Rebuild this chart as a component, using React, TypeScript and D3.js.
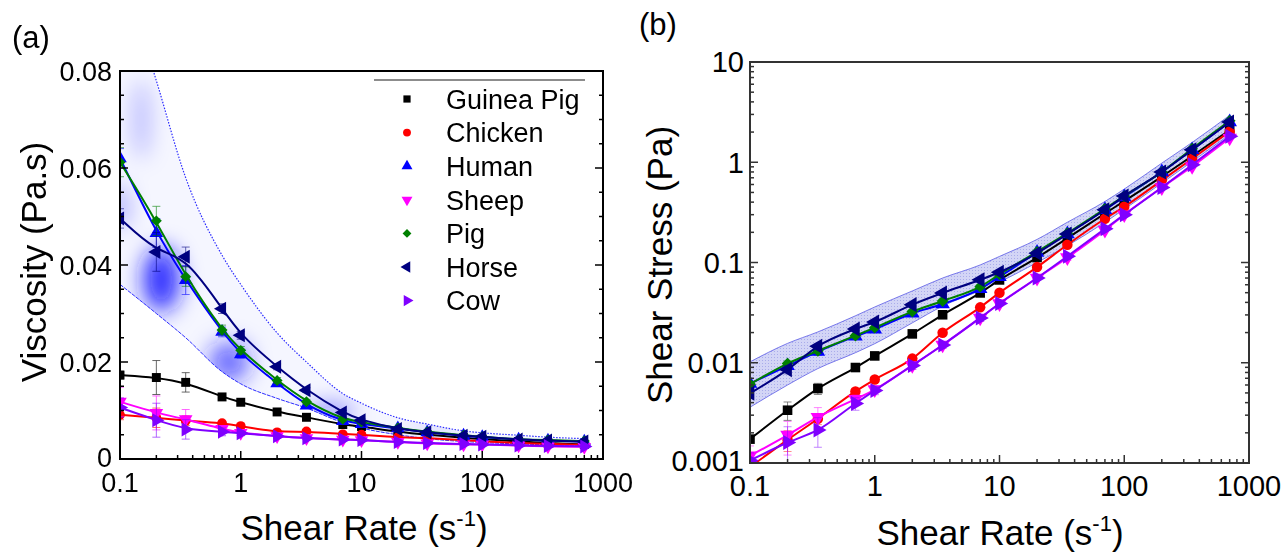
import React from 'react';
import * as d3 from 'd3';

// shear rates (1/s) shared by every series
const rates = [0.1, 0.2, 0.35, 0.7, 1, 2, 3.5, 7, 10, 20, 35, 70, 100, 200, 350, 700];

// viscosity (Pa.s) (a) / (b)
const guineaPig = [0.0173, 0.0168, 0.0158, 0.0128, 0.0117, 0.0097, 0.0086, 0.0071, 0.0067, 0.0056, 0.005, 0.0044, 0.0041, 0.0036, 0.0033, 0.003];
const chicken = [0.0091, 0.0085, 0.0079, 0.0074, 0.0068, 0.0055, 0.0057, 0.0051, 0.005, 0.0045, 0.0043, 0.0039, 0.0036, 0.0033, 0.0031, 0.0029];
const human = [0.062, 0.0466, 0.0369, 0.0262, 0.0216, 0.0156, 0.011, 0.0078, 0.0072, 0.0063, 0.0055, 0.0048, 0.0045, 0.004, 0.0038, 0.0036];
const sheep = [0.0118, 0.0095, 0.0082, 0.0062, 0.0054, 0.0047, 0.0043, 0.004, 0.0039, 0.0035, 0.0032, 0.003, 0.003, 0.0028, 0.0026, 0.0025];
const pig = [0.0612, 0.0491, 0.0376, 0.0266, 0.0224, 0.0162, 0.0118, 0.0082, 0.0076, 0.0064, 0.0056, 0.0049, 0.0046, 0.004, 0.0039, 0.0037];
const horse = [0.0496, 0.0427, 0.0417, 0.031, 0.0255, 0.019, 0.0142, 0.0096, 0.008, 0.0062, 0.0055, 0.0048, 0.0046, 0.004, 0.0038, 0.0036];
const cow = [0.0106, 0.008, 0.0061, 0.0056, 0.0053, 0.0047, 0.0043, 0.004, 0.0039, 0.0035, 0.0033, 0.0031, 0.003, 0.0028, 0.0027, 0.0026];

// error bars (Pa.s)
const guineaPigErr = [0.0008, 0.0035, 0.002, 0.0006, 0.0005, 0.0004, 0.0003, 0.0003, 0.0002, 0.0002, 0.0002, 0.0001, 0.0001, 0.0001, 0.0001, 0.0001];
const chickenErr = [0.001, 0.002, 0.001, 0.0005, 0.0004, 0.0003, 0.0003, 0.0002, 0.0002, 0.0002, 0.0001, 0.0001, 0.0001, 0.0001, 0.0001, 0.0001];
const humanErr = [0.002, 0.003, 0.003, 0.001, 0.0008, 0.0006, 0.0005, 0.0004, 0.0003, 0.0002, 0.0002, 0.0002, 0.0001, 0.0001, 0.0001, 0.0001];
const sheepErr = [0.003, 0.0035, 0.002, 0.0006, 0.0005, 0.0004, 0.0003, 0.0003, 0.0002, 0.0002, 0.0002, 0.0001, 0.0001, 0.0001, 0.0001, 0.0001];
const pigErr = [0.003, 0.003, 0.002, 0.001, 0.0008, 0.0006, 0.0005, 0.0004, 0.0003, 0.0002, 0.0002, 0.0002, 0.0001, 0.0001, 0.0001, 0.0001];
const horseErr = [0.002, 0.004, 0.002, 0.001, 0.0008, 0.0006, 0.0005, 0.0004, 0.0003, 0.0002, 0.0002, 0.0002, 0.0001, 0.0001, 0.0001, 0.0001];
const cowErr = [0.002, 0.0035, 0.002, 0.0008, 0.0005, 0.0004, 0.0003, 0.0003, 0.0002, 0.0002, 0.0002, 0.0001, 0.0001, 0.0001, 0.0001, 0.0001];

// normal range band (viscosity, Pa.s)
const bandUpper = [0.102, 0.078, 0.058, 0.042, 0.036, 0.026, 0.02, 0.0135, 0.0115, 0.0085, 0.0072, 0.0058, 0.0054, 0.0049, 0.0045, 0.0042];
const bandLower = [0.036, 0.03, 0.025, 0.018, 0.0155, 0.0125, 0.0105, 0.0075, 0.0064, 0.005, 0.0042, 0.0036, 0.0034, 0.0031, 0.0029, 0.0027];

const names = ['Guinea Pig', 'Chicken', 'Human', 'Sheep', 'Pig', 'Horse', 'Cow'];
const values = [guineaPig, chicken, human, sheep, pig, horse, cow];
const errors = [guineaPigErr, chickenErr, humanErr, sheepErr, pigErr, horseErr, cowErr];

const colors = ['#000000', '#ff0000', '#0000ff', '#ff00ff', '#008000', '#000080', '#8000ff'];
// symbol + rotation
const shapes: [any, number][] = [
  [d3.symbolSquare, 0],
  [d3.symbolCircle, 0],
  [d3.symbolTriangle, 0],
  [d3.symbolTriangle, 180],
  [d3.symbolSquare, 45],
  [d3.symbolTriangle, -90],
  [d3.symbolTriangle, 90],
];
const sizes = [80, 75, 80, 80, 60, 85, 85];

const FONT = "'Liberation Sans', Arial, sans-serif";

// panel a
const xA = d3.scaleLog().domain([0.1, 1000]).range([120, 603]);
const yA = d3.scaleLinear().domain([0, 0.08]).range([459, 71]);
// panel b
const xB = d3.scaleLog().domain([0.1, 1000]).range([750, 1249]);
const yB = d3.scaleLog().domain([0.001, 10]).range([463, 62]);

const isDecade = (v: number) => Math.abs(Math.log10(v) - Math.round(Math.log10(v))) < 1e-6;

function Marker({ i, x, y, scale = 1 }: { i: number; x: number; y: number; scale?: number }) {
  const [type, rot] = shapes[i];
  const d = d3.symbol(type, sizes[i] * scale)() as string;
  return <path d={d} transform={`translate(${x},${y}) rotate(${rot})`} fill={colors[i]} />;
}

function Title({ x, y, children }: any) {
  return (
    <text x={x} y={y} fontSize={35} textAnchor="middle" fontFamily={FONT}
      transform={`rotate(-90,${x},${y})`}>{children}</text>
  );
}

function RateTitle({ x, y }: { x: number; y: number }) {
  return (
    <text x={x} y={y} fontSize={35} textAnchor="middle" fontFamily={FONT}>
      Shear Rate (s<tspan fontSize={22} dy={-14}>-1</tspan><tspan dy={14}>)</tspan>
    </text>
  );
}

function PanelA() {
  const [x0, x1] = xA.range();
  const [y0, y1] = yA.range();
  const line = d3.line<[number, number]>().curve(d3.curveBasis);
  const smooth = d3.line<[number, number]>().curve(d3.curveMonotoneX);
  const bandArea = d3.area<number>()
    .x((_, k) => xA(rates[k]))
    .y0((_, k) => yA(bandLower[k]))
    .y1((_, k) => yA(bandUpper[k]))
    .curve(d3.curveMonotoneX);
  const upperLine = smooth(rates.map((r, k) => [xA(r), yA(bandUpper[k])]));
  const lowerLine = smooth(rates.map((r, k) => [xA(r), yA(bandLower[k])]));
  const xt = xA.ticks();
  const yt = yA.ticks(16);
  return (
    <g>
      <defs>
        <clipPath id="clipA"><rect x={x0} y={y1} width={x1 - x0} height={y0 - y1} /></clipPath>
        <clipPath id="bandA"><path d={bandArea(bandUpper) as string} /></clipPath>
        <filter id="blurA" x="-50%" y="-50%" width="200%" height="200%"><feGaussianBlur stdDeviation="11" /></filter>
      </defs>
      <g clipPath="url(#clipA)">
        <g clipPath="url(#bandA)">
          <path d={bandArea(bandUpper) as string} fill="#f5f6ff" />
          <g filter="url(#blurA)" fill="#1a1aff">
            <ellipse cx={xA(0.15)} cy={yA(0.07)} rx={7} ry={40} opacity={0.3} />
            <ellipse cx={xA(0.22)} cy={yA(0.037)} rx={18} ry={32} opacity={0.9} />
            <ellipse cx={xA(0.1)} cy={yA(0.052)} rx={7} ry={22} opacity={0.4} />
            <ellipse cx={xA(0.8)} cy={yA(0.02)} rx={20} ry={20} opacity={0.65} />
            <ellipse cx={xA(5.5)} cy={yA(0.0095)} rx={24} ry={8} opacity={0.55} />
            <ellipse cx={xA(40)} cy={yA(0.006)} rx={30} ry={5} opacity={0.2} />
          </g>
        </g>
        <path d={upperLine as string} fill="none" stroke="#2b2bff" strokeWidth={1.2} strokeDasharray="1.5,1.5" />
        <path d={lowerLine as string} fill="none" stroke="#2b2bff" strokeWidth={1} strokeDasharray="4,1" />
        {values.map((vals, i) => (
          <g key={names[i]}>
            {rates.map((r, k) => {
              const e = errors[i][k];
              const cx = xA(r);
              const ya = yA(vals[k] + e), yb = yA(vals[k] - e);
              return (
                <g key={k} stroke={colors[i]} strokeWidth={0.8} opacity={0.75}>
                  <line x1={cx} x2={cx} y1={ya} y2={yb} />
                  <line x1={cx - 4} x2={cx + 4} y1={ya} y2={ya} />
                  <line x1={cx - 4} x2={cx + 4} y1={yb} y2={yb} />
                </g>
              );
            })}
            <path d={line(rates.map((r, k) => [xA(r), yA(vals[k])])) as string} fill="none" stroke={colors[i]} strokeWidth={2} />
            {rates.map((r, k) => <Marker key={k} i={i} x={xA(r)} y={yA(vals[k])} />)}
          </g>
        ))}
      </g>
      {/* frame */}
      <rect x={x0} y={y1} width={x1 - x0} height={y0 - y1} fill="none" stroke="#000" strokeWidth={2} />
      {/* x ticks, inward */}
      {xt.map((t, k) => {
        const len = isDecade(t) ? 8 : 4;
        return <line key={k} x1={xA(t)} x2={xA(t)} y1={y0} y2={y0 - len} stroke="#000" strokeWidth={1.5} />;
      })}
      {xt.filter(isDecade).map((t, k) => (
        <text key={k} x={xA(t)} y={y0 + 33} fontSize={27} textAnchor="middle" fontFamily={FONT}>
          {d3.format('~g')(t)}
        </text>
      ))}
      {yt.map((t, k) => {
        const major = Math.abs(t / 0.02 - Math.round(t / 0.02)) < 1e-6;
        const len = major ? 8 : 4;
        return (
          <g key={k} stroke="#000" strokeWidth={1.5}>
            <line x1={x0} x2={x0 + len} y1={yA(t)} y2={yA(t)} />
            <line x1={x1} x2={x1 - len} y1={yA(t)} y2={yA(t)} />
          </g>
        );
      })}
      {yA.ticks(4).map((t, k) => (
        <text key={k} x={x0 - 8} y={yA(t) - (t === 0 ? 2 : 0)} dy="0.36em" fontSize={27} textAnchor="end" fontFamily={FONT}>
          {t === 0 ? '0' : d3.format('.2f')(t)}
        </text>
      ))}
      {/* legend */}
      <line x1={374} x2={585} y1={80} y2={80} stroke="#666" strokeWidth={1.5} />
      {names.map((n, i) => (
        <g key={n}>
          <Marker i={i} x={407} y={99 + i * 33.6} scale={0.65} />
          <text x={446} y={99 + i * 33.6} dy="0.36em" fontSize={27} fontFamily={FONT}>{n}</text>
        </g>
      ))}
      <text x={12} y={48} fontSize={31} fontFamily={FONT}>(a)</text>
      <Title x={46} y={262}>Viscosity (Pa.s)</Title>
      <RateTitle x={364} y={540} />
    </g>
  );
}

function PanelB() {
  const [x0, x1] = xB.range();
  const [y0, y1] = yB.range();
  const line = d3.line<[number, number]>().curve(d3.curveMonotoneX);
  const bandArea = d3.area<number>()
    .x((_, k) => xB(rates[k]))
    .y0((_, k) => yB(rates[k] * bandLower[k]))
    .y1((_, k) => yB(rates[k] * bandUpper[k]))
    .curve(d3.curveMonotoneX);
  const xt = xB.ticks();
  const yt = yB.ticks();
  return (
    <g>
      <defs>
        <clipPath id="clipB"><rect x={x0} y={y1} width={x1 - x0} height={y0 - y1} /></clipPath>
        <pattern id="dotsB" width={3} height={3} patternUnits="userSpaceOnUse">
          <rect width={3} height={3} fill="#d3d5f6" />
          <rect width={1} height={1} fill="#a9acea" />
        </pattern>
      </defs>
      <g clipPath="url(#clipB)">
        <path d={bandArea(bandUpper) as string} fill="url(#dotsB)" stroke="#5a5ae6" strokeWidth={0.8} />
        {values.map((vals, i) => (
          <g key={names[i]}>
            {rates.map((r, k) => {
              const s = r * vals[k], e = r * errors[i][k];
              const cx = xB(r);
              const ya = yB(s + e), yb = yB(Math.max(s - e, 1e-5));
              return (
                <g key={k} stroke={colors[i]} strokeWidth={0.8} opacity={0.6}>
                  <line x1={cx} x2={cx} y1={ya} y2={yb} />
                  <line x1={cx - 4} x2={cx + 4} y1={ya} y2={ya} />
                  <line x1={cx - 4} x2={cx + 4} y1={yb} y2={yb} />
                </g>
              );
            })}
            <path d={line(rates.map((r, k) => [xB(r), yB(r * vals[k])])) as string} fill="none" stroke={colors[i]} strokeWidth={2} />
            {rates.map((r, k) => <Marker key={k} i={i} x={xB(r)} y={yB(r * vals[k])} scale={1.15} />)}
          </g>
        ))}
      </g>
      <rect x={x0} y={y1} width={x1 - x0} height={y0 - y1} fill="none" stroke="#333" strokeWidth={2} />
      {xt.map((t, k) => {
        const len = isDecade(t) ? 8 : 4;
        return <line key={k} x1={xB(t)} x2={xB(t)} y1={y0} y2={y0 - len} stroke="#333" strokeWidth={1.5} />;
      })}
      {xt.filter(isDecade).map((t, k) => (
        <text key={k} x={xB(t)} y={y0 + 33} fontSize={29} textAnchor="middle" fontFamily={FONT}>
          {d3.format('~g')(t)}
        </text>
      ))}
      {yt.map((t, k) => {
        const len = isDecade(t) ? 8 : 4;
        return (
          <g key={k} stroke="#333" strokeWidth={1.5}>
            <line x1={x0} x2={x0 + len} y1={yB(t)} y2={yB(t)} />
            <line x1={x1} x2={x1 - len} y1={yB(t)} y2={yB(t)} />
          </g>
        );
      })}
      {yt.filter(isDecade).map((t, k) => (
        <text key={k} x={x0 - 6} y={yB(t) - (k === 0 ? 2 : 0)} dy="0.36em" fontSize={29} textAnchor="end" fontFamily={FONT}>
          {d3.format('~g')(t)}
        </text>
      ))}
      <text x={639} y={35} fontSize={31} fontFamily={FONT}>(b)</text>
      <Title x={672} y={265}>Shear Stress (Pa)</Title>
      <RateTitle x={1000} y={545} />
    </g>
  );
}

export default function App() {
  return (
    <svg width={1282} height={554} viewBox="0 0 1282 554"
      style={{ position: 'absolute', left: 0, top: 0, background: '#fff' }}>
      <PanelA />
      <PanelB />
    </svg>
  );
}
